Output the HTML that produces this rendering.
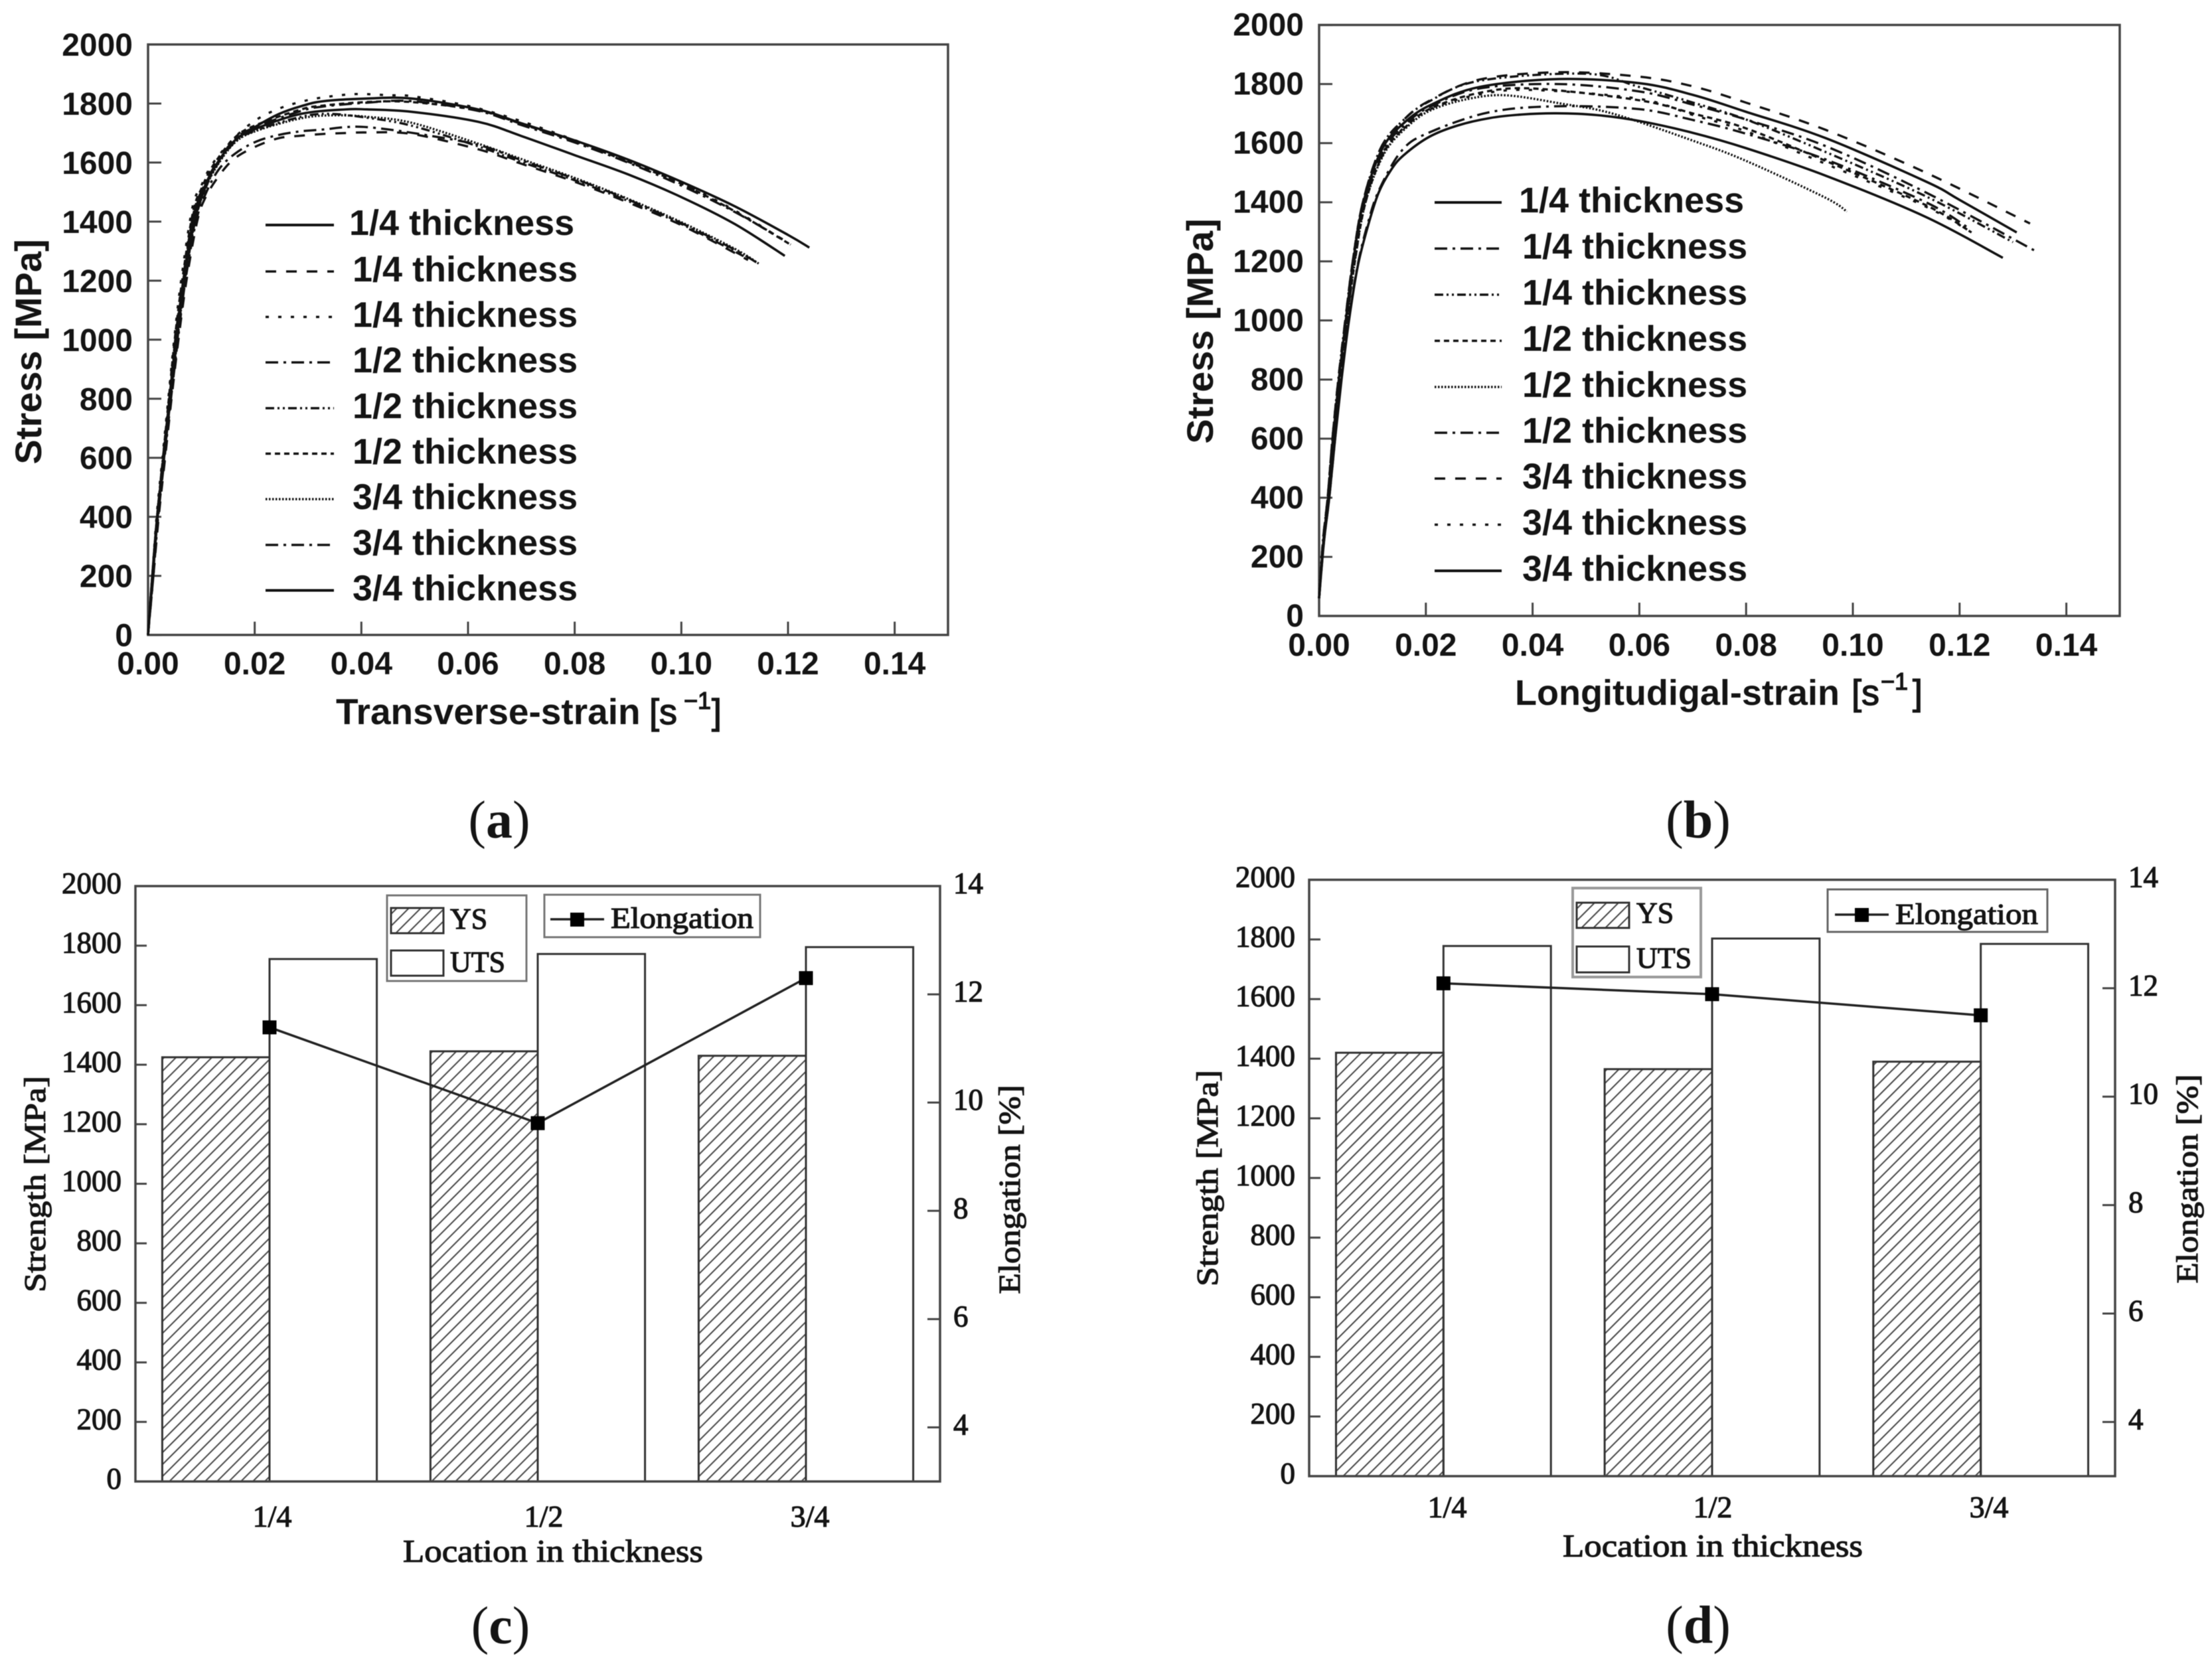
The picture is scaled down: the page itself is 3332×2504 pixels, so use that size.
<!DOCTYPE html>
<html lang="en">
<head>
<meta charset="utf-8">
<title>Stress-strain curves and strength by thickness location</title>
<style>
html,body{margin:0;padding:0;background:#fff;}
svg{display:block;filter:blur(.6px);}
.sans{font-family:"Liberation Sans",Arial,sans-serif;font-weight:700;fill:#141414;}
.sansreg{font-family:"Liberation Sans",Arial,sans-serif;font-weight:400;fill:#141414;stroke:#141414;stroke-width:1.4;}
.serif{font-family:"Liberation Serif","Times New Roman",serif;fill:#141414;stroke:#141414;stroke-width:1.2;}
.cap{font-family:"Liberation Serif","Times New Roman",serif;fill:#141414;}
</style>
</head>
<body>
<svg id="figure" xmlns="http://www.w3.org/2000/svg" width="3332" height="2504" viewBox="0 0 3332 2504">
  <defs>
    <pattern id="hatch" patternUnits="userSpaceOnUse" width="12.7" height="12.7" patternTransform="rotate(45)">
      <line x1="6" y1="0" x2="6" y2="12.7" stroke="#444" stroke-width="2"/>
    </pattern>
  </defs>
  <rect x="0" y="0" width="3332" height="2504" fill="#fff"/>

  <text class="cap" x="752" y="1262" font-size="80" text-anchor="middle">(<tspan font-weight="700">a</tspan>)</text>
  <text class="cap" x="2558" y="1262" font-size="80" text-anchor="middle">(<tspan font-weight="700">b</tspan>)</text>
  <text class="cap" x="754" y="2476" font-size="80" text-anchor="middle">(<tspan font-weight="700">c</tspan>)</text>
  <text class="cap" x="2558" y="2475" font-size="80" text-anchor="middle">(<tspan font-weight="700">d</tspan>)</text>

  <!-- Panel titles with superscripts -->
  <text class="sans" x="506" y="1091" font-size="55">Transverse-strain</text>
  <text class="sansreg" x="978" y="1091" font-size="54">[s</text>
  <text class="sansreg" x="1030" y="1068" font-size="36">&#8722;1</text>
  <text class="sansreg" x="1072" y="1091" font-size="54">]</text>
  <text class="sans" transform="translate(62 530) rotate(-90)" font-size="56" text-anchor="middle">Stress [MPa]</text>

  <text class="sans" x="2282" y="1062" font-size="54">Longitudigal-strain</text>
  <text class="sansreg" x="2789" y="1062" font-size="54">[s</text>
  <text class="sansreg" x="2833" y="1039" font-size="36">&#8722;1</text>
  <text class="sansreg" x="2881" y="1062" font-size="54">]</text>
  <text class="sans" transform="translate(1827 499) rotate(-90)" font-size="56" text-anchor="middle">Stress [MPa]</text>

  <text class="serif" x="833" y="2353" font-size="48" text-anchor="middle" textLength="452" lengthAdjust="spacingAndGlyphs">Location in thickness</text>
  <text class="serif" transform="translate(68 1784) rotate(-90)" font-size="46" text-anchor="middle" textLength="326" lengthAdjust="spacingAndGlyphs">Strength [MPa]</text>
  <text class="serif" transform="translate(1536 1792) rotate(-90)" font-size="46" text-anchor="middle" textLength="315" lengthAdjust="spacingAndGlyphs">Elongation [%]</text>

  <text class="serif" x="2580" y="2345" font-size="48" text-anchor="middle" textLength="452" lengthAdjust="spacingAndGlyphs">Location in thickness</text>
  <text class="serif" transform="translate(1834 1775) rotate(-90)" font-size="46" text-anchor="middle" textLength="326" lengthAdjust="spacingAndGlyphs">Strength [MPa]</text>
  <text class="serif" transform="translate(3310 1776) rotate(-90)" font-size="46" text-anchor="middle" textLength="315" lengthAdjust="spacingAndGlyphs">Elongation [%]</text>

  <!-- Bar chart legends -->
  <g>
    <rect x="583" y="1349" width="210" height="129" fill="none" stroke="#777" stroke-width="3"/>
    <rect x="589" y="1368" width="79" height="38" fill="url(#hatch)" stroke="#333" stroke-width="3"/>
    <rect x="589" y="1432" width="79" height="38" fill="#fff" stroke="#333" stroke-width="3"/>
    <text class="serif" x="678" y="1399" font-size="44">YS</text>
    <text class="serif" x="678" y="1464" font-size="44">UTS</text>
  </g>
  <g>
    <rect x="820" y="1348" width="325" height="64" fill="none" stroke="#777" stroke-width="3"/>
    <line x1="829" y1="1385" x2="910" y2="1385" stroke="#222" stroke-width="3.5"/>
    <rect x="859" y="1375" width="21" height="21" fill="#000"/>
    <text class="serif" x="920" y="1398" font-size="44" textLength="215" lengthAdjust="spacingAndGlyphs">Elongation</text>
  </g>
  <g>
    <rect x="2369" y="1338" width="193" height="134" fill="none" stroke="#999" stroke-width="4"/>
    <rect x="2375" y="1360" width="79" height="38" fill="url(#hatch)" stroke="#333" stroke-width="3"/>
    <rect x="2375" y="1426" width="79" height="39" fill="#fff" stroke="#333" stroke-width="3"/>
    <text class="serif" x="2465" y="1390" font-size="44">YS</text>
    <text class="serif" x="2465" y="1458" font-size="44">UTS</text>
  </g>
  <g>
    <rect x="2753" y="1340" width="331" height="64" fill="none" stroke="#666" stroke-width="3"/>
    <line x1="2764" y1="1378" x2="2845" y2="1378" stroke="#222" stroke-width="3.5"/>
    <rect x="2794" y="1368" width="21" height="21" fill="#000"/>
    <text class="serif" x="2855" y="1392" font-size="44" textLength="215" lengthAdjust="spacingAndGlyphs">Elongation</text>
  </g>
</svg>
<script>
// ---------- Shared tick labels ----------
const stressTicks = [0, 200, 400, 600, 800, 1000, 1200, 1400, 1600, 1800, 2000];
const strainTicks = [0, 0.02, 0.04, 0.06, 0.08, 0.10, 0.12, 0.14];
const elongationTicks = [4, 6, 8, 10, 12, 14];

// ---------- Panel (a) transverse strain curves ----------
const a1Strain = [0,.0009,.0018,.003,.0042,.0054,.0068,.0087,.0105,.0127,.0163,.0204,.0287,.037,.0411,.0494,.0619,.07,.08,.09,.10,.11,.1194];
const a1Stress = [0,200,400,600,800,1000,1200,1400,1505,1590,1675,1716,1765,1780,1780,1772,1738,1690,1625,1560,1483,1392,1284];
const a2Strain = [0,.001,.002,.0032,.0044,.0057,.0072,.0092,.0108,.0135,.0163,.0204,.0246,.0287,.0329,.037,.0411,.0494,.0619,.07,.08,.09,.10,.1125];
const a2Stress = [0,200,400,600,800,1000,1200,1400,1483,1560,1615,1656,1683,1691,1697,1700,1702,1697,1645,1596,1535,1465,1388,1270];
const a3Strain = [0,.0008,.0016,.0027,.0038,.0049,.0062,.0083,.0100,.0121,.0163,.0204,.0246,.0287,.0329,.039,.0453,.0494,.06,.07,.08,.09,.10,.11,.1205];
const a3Stress = [0,200,400,600,800,1000,1200,1446,1522,1596,1686,1746,1783,1806,1821,1832,1828,1825,1792,1740,1676,1607,1530,1438,1322];
const a4Strain = [0,.001,.0019,.0031,.0043,.0056,.007,.009,.0107,.0132,.0163,.0204,.0246,.0287,.0329,.037,.0411,.0494,.0619,.07,.08,.09,.10,.11,.1145];
const a4Stress = [0,200,400,600,800,1000,1200,1400,1490,1575,1630,1672,1694,1706,1712,1720,1720,1701,1660,1608,1545,1475,1395,1305,1257];
const a5Strain = [0,.0009,.0018,.003,.0042,.0055,.0069,.0088,.0105,.0127,.0163,.0204,.0287,.034,.041,.0494,.0619,.07,.08,.09,.10,.113];
const a5Stress = [0,200,400,600,800,1000,1200,1400,1500,1585,1670,1710,1755,1765,1752,1725,1655,1602,1540,1470,1392,1270];
const a6Strain = [0,.0008,.0017,.0028,.0039,.005,.0064,.0084,.0101,.0122,.0163,.0204,.0287,.0329,.0411,.0494,.0619,.07,.08,.09,.10,.11,.1202];
const a6Stress = [0,200,400,600,800,1000,1200,1430,1515,1590,1685,1728,1780,1793,1805,1805,1777,1731,1672,1603,1528,1435,1325];
const a7Strain = [0,.0009,.0018,.003,.0042,.0055,.0069,.0088,.0105,.0127,.0163,.0204,.0287,.0345,.0411,.0494,.0619,.07,.08,.09,.10,.11,.1145];
const a7Stress = [0,200,400,600,800,1000,1200,1400,1500,1582,1668,1708,1750,1760,1755,1735,1664,1612,1548,1477,1398,1308,1258];
const a8Strain = [0,.0008,.0017,.0028,.004,.0051,.0065,.0085,.0102,.0124,.0163,.0204,.0287,.0329,.0411,.0494,.0619,.07,.08,.09,.10,.11,.119];
const a8Stress = [0,200,400,600,800,1000,1200,1425,1510,1585,1680,1722,1775,1790,1803,1808,1775,1727,1668,1600,1522,1433,1340];
const a9Strain = [0,.0008,.0017,.0029,.004,.0052,.0066,.0086,.0103,.0125,.0163,.0204,.0246,.0287,.0329,.0411,.0494,.0619,.07,.08,.09,.10,.11,.12,.124];
const a9Stress = [0,200,400,600,800,1000,1200,1420,1505,1585,1675,1724,1765,1791,1808,1817,1817,1780,1733,1675,1610,1535,1452,1355,1312];
const panelALabels = ['1/4 thickness','1/4 thickness','1/4 thickness','1/2 thickness','1/2 thickness','1/2 thickness','3/4 thickness','3/4 thickness','3/4 thickness'];

// ---------- Panel (b) longitudinal strain curves ----------
const b1Strain = [0,.0008,.0017,.0026,.0037,.005,.0064,.0083,.0118,.016,.021,.03,.045,.06,.0701,.08,.0949,.1137,.12,.1307];
const b1Stress = [60,250,400,600,800,1000,1200,1400,1580,1670,1730,1790,1817,1803,1763,1706,1617,1470,1408,1298];
const b2Strain = [0,.0008,.0017,.0027,.0038,.0051,.0065,.0085,.012,.0162,.021,.03,.045,.06,.0701,.08,.0949,.1137,.134];
const b2Stress = [60,250,400,600,800,1000,1200,1400,1575,1665,1725,1785,1800,1775,1730,1680,1590,1433,1237];
const b3Strain = [0,.0007,.0016,.0025,.0036,.0049,.0063,.0082,.0116,.0158,.0205,.03,.05,.06,.0701,.08,.0949,.1137,.13];
const b3Stress = [60,250,400,600,800,1000,1200,1400,1585,1678,1740,1811,1835,1790,1737,1680,1570,1420,1265];
const b4Strain = [0,.0008,.0017,.0027,.0038,.0052,.0067,.0087,.0122,.0165,.0212,.03,.04,.06,.0701,.08,.0949,.1137,.1219];
const b4Stress = [60,250,400,600,800,1000,1200,1400,1570,1660,1720,1770,1785,1745,1700,1650,1540,1390,1302];
const b5Strain = [0,.0008,.0017,.0028,.0039,.0052,.0067,.0087,.0122,.0165,.021,.028,.035,.045,.055,.0701,.08,.0949,.0989];
const b5Stress = [60,250,400,600,800,1000,1200,1400,1565,1655,1712,1750,1762,1735,1700,1608,1540,1415,1368];
const b6Strain = [0,.0009,.0019,.003,.0041,.0055,.0072,.009,.0112,.0155,.0205,.032,.045,.06,.0701,.08,.0949,.1137,.1215];
const b6Stress = [60,250,400,600,800,1000,1185,1320,1440,1575,1635,1705,1725,1715,1678,1632,1545,1400,1315];
const b7Strain = [0,.0007,.0016,.0025,.0036,.0049,.0063,.0082,.0116,.0158,.0205,.03,.045,.06,.0701,.08,.0949,.1137,.1332];
const b7Stress = [60,250,400,600,800,1000,1200,1400,1585,1678,1742,1815,1840,1825,1792,1737,1645,1500,1328];
const b8Strain = [0,.0008,.0017,.0027,.0038,.0052,.0066,.0086,.0121,.0164,.0212,.03,.04,.06,.0701,.08,.0949,.1137,.1225];
const b8Stress = [60,250,400,600,800,1000,1200,1400,1572,1660,1718,1765,1780,1750,1695,1640,1530,1385,1295];
const b9Strain = [0,.0009,.0019,.003,.0042,.0056,.0072,.009,.0111,.0135,.0159,.0207,.026,.032,.038,.0445,.052,.06,.07,.08,.0949,.1137,.1281];
const b9Stress = [60,250,400,600,800,1000,1180,1310,1430,1510,1560,1622,1660,1685,1697,1701,1695,1675,1635,1583,1490,1350,1212];
const panelBLabels = ['1/4 thickness','1/4 thickness','1/4 thickness','1/2 thickness','1/2 thickness','1/2 thickness','3/4 thickness','3/4 thickness','3/4 thickness'];

// ---------- Panels (c) and (d) bar and line values ----------
const thicknessCategories = ['1/4', '1/2', '3/4'];
const panelCYieldStrength = [1425, 1445, 1430];
const panelCTensileStrength = [1755, 1772, 1795];
const panelCElongation = [11.39, 9.62, 12.3];
const panelDYieldStrength = [1420, 1365, 1390];
const panelDTensileStrength = [1778, 1803, 1785];
const panelDElongation = [12.09, 11.89, 11.5];

// ---------- Line styles ----------
const SOLID = 'none', DASH = '16 15', DOT = '5 14', DASHDOT = '19 8 4 8', DASHDOTDOT = '13 5 3 5 3 5', SHORT = '8 6', FINE = '2.5 2.5';

const svg = document.getElementById('figure');
const NS = 'http://www.w3.org/2000/svg';

function add(parent, tag, attrs, name, text) {
  const el = document.createElementNS(NS, tag);
  for (const k in attrs) el.setAttribute(k, attrs[k]);
  
  
  if (text !== undefined) el.textContent = text;
  parent.appendChild(el);
  return el;
}

function smoothPath(pts) {
  let d = 'M' + pts[0][0].toFixed(2) + ' ' + pts[0][1].toFixed(2);
  for (let i = 0; i < pts.length - 1; i++) {
    const p0 = pts[Math.max(i - 1, 0)], p1 = pts[i], p2 = pts[i + 1], p3 = pts[Math.min(i + 2, pts.length - 1)];
    const c1x = p1[0] + (p2[0] - p0[0]) / 6, c1y = p1[1] + (p2[1] - p0[1]) / 6;
    const c2x = p2[0] - (p3[0] - p1[0]) / 6, c2y = p2[1] - (p3[1] - p1[1]) / 6;
    d += 'C' + c1x.toFixed(2) + ' ' + c1y.toFixed(2) + ' ' + c2x.toFixed(2) + ' ' + c2y.toFixed(2) + ' ' + p2[0].toFixed(2) + ' ' + p2[1].toFixed(2);
  }
  return d;
}

function drawStressPanel(cfg) {
  const g = add(svg, 'g', {}, cfg.id + '-chart');
  const sx = v => cfg.left + (cfg.right - cfg.left) * v / 0.15;
  const sy = v => cfg.bottom - (cfg.bottom - cfg.top) * v / 2000;
  add(g, 'rect', {x: cfg.left, y: cfg.top, width: cfg.right - cfg.left, height: cfg.bottom - cfg.top, fill: 'none', stroke: '#444', 'stroke-width': 3.5}, cfg.id + '-plot-frame');
  stressTicks.forEach(t => {
    add(g, 'line', {x1: cfg.left, x2: cfg.left + 20, y1: sy(t), y2: sy(t), stroke: '#444', 'stroke-width': 3}, cfg.id + '-y-tick');
    add(g, 'text', {x: cfg.left - 23, y: sy(t) + 17 + cfg.yLabelShift, 'font-size': 48, 'text-anchor': 'end', class: 'sans'}, cfg.id + '-y-tick-label', String(t));
  });
  strainTicks.forEach(t => {
    add(g, 'line', {x1: sx(t), x2: sx(t), y1: cfg.bottom, y2: cfg.bottom - 20, stroke: '#444', 'stroke-width': 3}, cfg.id + '-x-tick');
    add(g, 'text', {x: sx(t), y: cfg.xLabelY, 'font-size': 48, 'text-anchor': 'middle', class: 'sans'}, cfg.id + '-x-tick-label', t.toFixed(2));
  });
  cfg.series.forEach((s, i) => {
    const pts = s.strain.map((v, j) => [sx(v), sy(s.stress[j])]);
    const attrs = {d: smoothPath(pts), fill: 'none', stroke: '#111', 'stroke-width': s.dash === SOLID ? 3.6 : 3.4};
    if (s.dash !== SOLID) attrs['stroke-dasharray'] = s.dash;
    add(g, 'path', attrs, cfg.id + '-curve-' + (i + 1));
    const ly = cfg.legendY[i];
    const lineAttrs = {x1: cfg.legendX1, x2: cfg.legendX2, y1: ly, y2: ly, stroke: '#111', 'stroke-width': s.dash === SOLID ? 4 : 3.6};
    if (s.dash !== SOLID) lineAttrs['stroke-dasharray'] = s.dash;
    add(g, 'line', lineAttrs, cfg.id + '-legend-line-' + (i + 1));
    add(g, 'text', {x: i === 0 ? cfg.legendTextX - 5 : cfg.legendTextX, y: ly + 15, 'font-size': 54, class: 'sans'}, cfg.id + '-legend-label-' + (i + 1), cfg.labels[i]);
  });
}

function drawBarPanel(cfg) {
  const g = add(svg, 'g', {}, cfg.id + '-chart');
  const band = (cfg.right - cfg.left) / thicknessCategories.length;
  const cx = i => cfg.left + band * (i + 0.5);
  const barW = band * 0.4;
  const sy = v => cfg.bottom - (cfg.bottom - cfg.top) * v / 2000;
  const sr = v => cfg.bottom - (cfg.bottom - cfg.top) * (v - 3) / 11;

  thicknessCategories.forEach((c, i) => {
    add(g, 'rect', {x: cx(i) - barW, y: sy(cfg.ys[i]), width: barW, height: sy(0) - sy(cfg.ys[i]), fill: 'url(#hatch)', stroke: '#333', 'stroke-width': 3}, cfg.id + '-ys-bar-' + c.replace('/', '-'));
    add(g, 'rect', {x: cx(i), y: sy(cfg.uts[i]), width: barW, height: sy(0) - sy(cfg.uts[i]), fill: '#fff', 'fill-opacity': 0, stroke: '#333', 'stroke-width': 3}, cfg.id + '-uts-bar-' + c.replace('/', '-'));
    add(g, 'text', {x: cfg.catLabelX[i], y: cfg.catLabelY, 'font-size': 46, 'text-anchor': 'middle', class: 'serif'}, cfg.id + '-category-label', c);
  });

  add(g, 'rect', {x: cfg.left, y: cfg.top, width: cfg.right - cfg.left, height: cfg.bottom - cfg.top, fill: 'none', stroke: '#444', 'stroke-width': 3.5}, cfg.id + '-plot-frame');
  stressTicks.forEach(t => {
    add(g, 'line', {x1: cfg.left, x2: cfg.left + 17, y1: sy(t), y2: sy(t), stroke: '#444', 'stroke-width': 3}, cfg.id + '-left-tick');
    add(g, 'text', {x: cfg.left - 21, y: sy(t) + 11, 'font-size': 45, 'text-anchor': 'end', class: 'serif'}, cfg.id + '-left-tick-label', String(t));
  });
  elongationTicks.forEach(t => {
    add(g, 'line', {x1: cfg.right - 19, x2: cfg.right, y1: sr(t), y2: sr(t), stroke: '#444', 'stroke-width': 3}, cfg.id + '-right-tick');
    add(g, 'text', {x: cfg.right + 20, y: sr(t) + 11, 'font-size': 45, class: 'serif'}, cfg.id + '-right-tick-label', String(t));
  });

  const linePts = cfg.elong.map((v, i) => cx(i).toFixed(2) + ',' + sr(v).toFixed(2)).join(' ');
  add(g, 'polyline', {points: linePts, fill: 'none', stroke: '#222', 'stroke-width': 3.5}, cfg.id + '-elongation-line');
  cfg.elong.forEach((v, i) => {
    add(g, 'rect', {x: cx(i) - 10.5, y: sr(v) - 10.5, width: 21, height: 21, fill: '#000'}, cfg.id + '-elongation-marker');
  });
}

drawStressPanel({
  id: 'panel-a', left: 223, right: 1428, top: 67, bottom: 956.6, xLabelY: 1016, yLabelShift: 0,
  legendX1: 400, legendX2: 503, legendTextX: 531,
  legendY: [339, 409, 477.5, 546, 615, 683.5, 752, 821, 889.5],
  labels: panelALabels,
  series: [
    {strain: a1Strain, stress: a1Stress, dash: SOLID},
    {strain: a2Strain, stress: a2Stress, dash: DASH},
    {strain: a3Strain, stress: a3Stress, dash: DOT},
    {strain: a4Strain, stress: a4Stress, dash: DASHDOT},
    {strain: a5Strain, stress: a5Stress, dash: DASHDOTDOT},
    {strain: a6Strain, stress: a6Stress, dash: SHORT},
    {strain: a7Strain, stress: a7Stress, dash: FINE},
    {strain: a8Strain, stress: a8Stress, dash: DASHDOT},
    {strain: a9Strain, stress: a9Stress, dash: SOLID}
  ]
});

drawStressPanel({
  id: 'panel-b', left: 1987, right: 3193, top: 37.6, bottom: 928, xLabelY: 988, yLabelShift: -1,
  legendX1: 2161, legendX2: 2262, legendTextX: 2293,
  legendY: [305, 374.5, 444, 513.5, 583, 652, 721, 790.5, 860],
  labels: panelBLabels,
  series: [
    {strain: b1Strain, stress: b1Stress, dash: SOLID},
    {strain: b2Strain, stress: b2Stress, dash: DASHDOT},
    {strain: b3Strain, stress: b3Stress, dash: DASHDOTDOT},
    {strain: b4Strain, stress: b4Stress, dash: SHORT},
    {strain: b5Strain, stress: b5Stress, dash: FINE},
    {strain: b6Strain, stress: b6Stress, dash: DASHDOT},
    {strain: b7Strain, stress: b7Stress, dash: DASH},
    {strain: b8Strain, stress: b8Stress, dash: DOT},
    {strain: b9Strain, stress: b9Stress, dash: SOLID}
  ]
});

drawBarPanel({
  id: 'panel-c', left: 204, right: 1416, top: 1335, bottom: 2232,
  ys: panelCYieldStrength, uts: panelCTensileStrength, elong: panelCElongation,
  catLabelX: [410, 819, 1220], catLabelY: 2300
});

drawBarPanel({
  id: 'panel-d', left: 1972, right: 3186, top: 1325.5, bottom: 2224,
  ys: panelDYieldStrength, uts: panelDTensileStrength, elong: panelDElongation,
  catLabelX: [2180, 2580, 2996], catLabelY: 2286
});
</script>
</body>
</html>
